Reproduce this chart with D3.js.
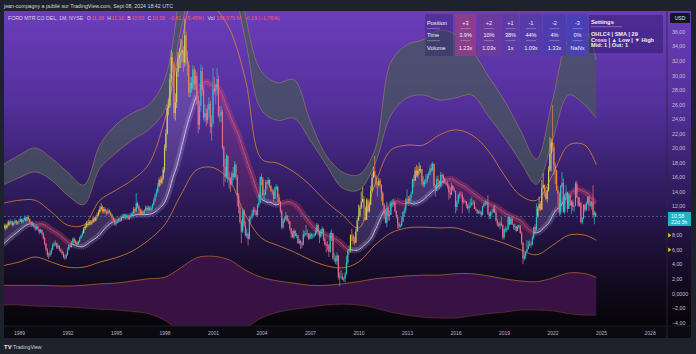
<!DOCTYPE html>
<html><head><meta charset="utf-8">
<script src="https://cdn.jsdelivr.net/npm/d3@7"></script>
<style>
html,body{margin:0;padding:0;background:#1e222d;}
svg{display:block;font-family:"Liberation Sans",Arial,sans-serif;}
</style></head><body>
<svg id="c" width="696" height="354"></svg>
<script>
// ---------------- DATA ----------------
const startYear = 1988;          // first monthly candle: Jan 1988
const firstOpen = 8.7;
const closes = [
9.0,9.3,9.0,9.4,9.8,9.6,9.9,9.4,9.7,10.0,9.6,9.8,
9.9,10.2,9.8,10.1,10.4,10.0,10.5,10.2,9.8,9.4,9.6,9.2,
8.9,9.2,8.8,8.4,8.7,8.2,7.6,6.8,6.0,5.3,5.2,5.5,
6.0,6.6,6.8,6.9,6.3,6.5,6.0,5.8,5.5,5.0,4.9,5.3,
6.0,6.6,6.4,7.0,7.5,7.2,7.0,6.8,7.1,7.6,7.9,8.3,
8.9,9.2,9.6,9.4,9.9,9.6,9.8,10.3,10.0,10.5,10.8,11.2,
11.6,11.9,11.3,11.6,11.2,11.0,11.4,11.1,10.8,10.4,10.1,9.6,
9.8,9.9,10.2,10.0,10.4,10.6,10.8,10.4,10.7,10.3,10.5,10.7,
11.0,11.6,11.3,12.4,12.0,11.5,11.0,11.3,11.0,11.4,11.8,11.5,
11.8,11.5,11.7,12.2,12.8,13.5,14.0,14.8,15.6,15.2,15.8,17.0,
20.0,22.0,25.5,25.8,29.5,32.5,31.5,24.8,26.3,30.5,32.3,32.8,
33.0,33.5,31.8,35.5,32.5,31.5,27.6,29.0,28.2,30.8,28.8,29.9,
26.8,23.2,25.8,30.6,28.0,24.2,24.8,23.8,25.3,26.1,22.9,23.4,
28.2,27.8,28.1,29.5,24.5,24.5,25.0,20.0,17.4,16.0,18.9,15.7,
15.8,15.0,16.5,16.0,17.7,16.0,13.5,11.8,9.8,8.5,11.4,9.3,
8.0,8.2,7.5,10.3,10.4,11.0,11.5,11.3,10.8,12.1,12.5,16.0,
15.7,13.5,13.6,15.3,15.1,15.6,14.7,14.1,14.0,13.0,14.6,14.6,
13.2,12.6,11.3,9.1,10.0,10.2,10.7,10.0,9.9,8.9,8.2,7.7,
8.6,7.9,8.0,6.9,7.2,6.9,6.7,8.1,8.1,8.3,8.2,7.5,
8.1,7.9,7.9,8.0,8.4,9.4,8.5,7.8,8.5,8.9,7.5,6.7,
6.6,6.6,5.7,8.3,8.3,4.8,4.8,4.4,5.2,2.2,2.3,2.3,
1.9,2.0,2.6,4.2,5.9,6.1,8.0,7.9,7.2,7.0,8.5,10.0,
10.7,11.8,12.6,13.0,11.8,10.1,12.8,11.3,12.2,14.1,15.9,16.8,
16.1,15.0,14.9,15.5,14.9,13.8,12.2,10.9,9.7,11.7,10.6,10.8,
12.4,12.4,12.5,11.3,10.5,9.6,9.2,9.3,9.9,11.2,11.4,12.9,
13.0,12.7,13.2,13.7,15.7,15.5,16.9,16.2,16.9,17.1,17.1,15.4,
15.0,15.4,15.6,16.2,16.4,17.2,17.0,17.8,14.8,14.1,15.7,15.5,
14.7,16.3,16.1,15.8,15.2,15.0,14.8,13.9,13.6,14.8,14.3,14.1,
11.9,12.5,13.5,13.6,13.5,12.6,12.7,12.6,12.1,11.7,12.0,12.1,
12.4,12.5,11.6,11.5,11.1,11.2,11.2,10.8,12.0,12.3,12.5,12.5,
11.0,10.6,11.1,11.2,11.6,11.1,10.0,9.5,9.3,9.6,9.4,7.7,
8.8,8.8,8.8,10.5,9.5,10.2,9.5,9.2,9.2,8.6,9.1,9.3,
8.3,7.0,4.8,5.1,5.7,6.1,6.6,6.8,6.7,7.7,9.1,8.8,
10.5,11.7,12.3,11.5,14.5,14.9,14.0,13.0,14.2,17.0,19.2,20.8,
20.1,17.6,16.9,14.2,13.7,11.1,14.7,15.2,11.2,13.4,13.9,11.6,
13.5,12.1,12.6,11.9,12.0,15.1,13.2,12.1,12.4,9.8,10.3,12.2,
11.5,12.4,13.3,12.1,12.1,12.5,10.8,11.08,10.58];
const highs = [
9.3,9.6,9.5,9.6,10.1,10.0,10.2,10.0,9.9,10.3,10.1,10.0,
10.2,10.5,10.3,10.3,10.7,10.5,10.8,10.7,10.3,9.9,9.9,9.7,
9.4,9.4,9.3,8.9,8.9,8.8,8.4,7.8,6.9,6.2,5.6,5.8,
6.2,6.9,7.1,7.3,7.0,6.8,6.6,6.2,6.0,5.7,5.3,5.5,
6.3,6.8,6.9,7.2,7.7,7.7,7.4,7.2,7.3,7.8,8.1,8.6,
9.1,9.5,9.9,9.8,10.1,10.1,10.1,10.5,10.5,10.7,11.1,11.5,
12.0,12.4,12.1,11.9,11.8,11.5,11.7,11.6,11.3,11.0,10.6,10.3,
10.2,10.2,10.4,10.4,10.6,10.9,11.0,10.9,10.9,10.8,10.8,11.0,
11.3,11.9,11.8,13.8,12.6,12.2,11.7,11.6,11.4,11.6,12.1,12.0,
12.1,12.0,12.0,12.4,13.1,13.8,14.4,15.2,15.9,16.1,16.2,17.4,
20.5,22.6,26.0,26.8,30.2,33.5,33.2,31.8,27.5,31.0,33.2,33.8,
35.0,34.8,34.0,37.8,36.0,33.4,32.0,29.8,29.8,31.4,31.2,30.8,
30.5,27.2,26.5,31.5,31.2,28.3,26.0,25.5,26.0,27.0,26.5,24.5,
31.0,29.8,28.8,31.0,30.0,25.8,25.8,25.3,20.3,18.5,19.2,19.0,
16.7,16.0,16.8,17.4,18.2,17.9,16.3,13.8,12.2,10.1,11.7,11.6,
9.9,8.9,8.4,10.6,10.7,11.5,11.9,11.8,11.5,12.3,13.6,16.1,
16.5,16.0,14.3,15.6,15.6,16.0,15.7,14.9,14.4,14.3,14.7,15.0,
14.8,13.7,12.7,11.5,10.3,10.6,11.2,10.8,10.3,10.0,9.0,8.6,
8.9,8.7,8.3,8.0,7.5,7.3,7.1,8.7,8.6,9.4,8.8,8.3,
8.4,8.3,8.2,8.3,8.7,9.7,9.6,8.6,8.8,9.2,8.9,7.7,
7.0,7.2,6.8,8.5,8.8,8.2,5.5,5.2,5.6,5.2,2.9,3.2,
2.8,2.2,2.9,5.2,6.0,6.6,8.1,8.9,8.2,7.8,8.9,10.4,
12.2,12.1,14.0,14.6,13.4,12.0,13.1,13.0,12.5,14.8,16.5,17.4,
18.9,16.3,15.5,15.9,15.8,15.0,14.0,12.4,11.5,12.6,11.9,11.4,
12.7,12.9,13.0,12.6,11.4,10.8,9.8,9.5,10.5,11.3,11.8,13.1,
14.3,13.4,13.5,14.0,15.8,16.3,17.4,17.7,17.5,18.0,17.6,17.1,
16.1,15.7,16.4,16.5,16.8,17.6,17.9,18.1,17.9,15.0,16.1,16.2,
15.5,16.7,16.5,16.4,15.9,15.3,15.5,15.1,14.6,15.2,14.9,14.6,
14.1,12.8,13.7,14.0,14.0,13.9,13.2,12.9,12.7,12.3,12.5,13.0,
13.3,12.8,12.8,11.9,11.6,11.4,11.5,11.3,12.0,12.5,12.8,12.7,
13.5,11.2,11.3,11.6,12.0,12.2,11.4,10.3,9.8,9.9,10.5,9.5,
8.9,9.2,9.1,10.6,10.6,10.5,10.6,9.5,9.6,9.3,9.4,9.5,
9.4,8.5,7.0,5.6,5.8,7.3,7.2,7.4,7.1,8.0,9.2,9.5,
12.4,12.0,13.3,12.7,15.6,16.5,15.0,14.2,14.7,17.5,21.5,21.3,
25.9,20.7,18.0,17.0,14.8,14.0,14.9,16.7,15.8,13.7,14.9,14.0,
13.8,13.6,12.8,12.9,12.1,15.4,15.5,13.3,13.2,12.6,10.5,12.2,
12.2,12.6,13.4,13.1,12.7,12.7,14.85,11.4,11.16];
const lows = [
8.4,8.8,8.7,8.9,9.2,9.3,9.4,9.2,9.2,9.5,9.4,9.4,
9.5,9.8,9.6,9.6,10.0,9.8,9.9,10.0,9.6,9.1,9.2,9.0,
8.6,8.7,8.6,8.1,8.3,8.0,7.4,6.6,5.8,5.0,4.7,5.0,
5.3,5.9,6.4,6.5,6.1,6.1,5.8,5.6,5.3,4.8,4.6,4.7,
5.2,5.9,6.2,6.3,6.9,7.0,6.8,6.6,6.7,7.0,7.5,7.8,
8.2,8.7,9.0,9.1,9.3,9.4,9.4,9.7,9.8,9.9,10.3,10.6,
11.0,11.4,11.0,11.0,11.0,10.7,10.9,10.9,10.6,10.2,9.9,9.3,
9.3,9.6,9.7,9.8,9.9,10.3,10.5,10.2,10.3,10.1,10.1,10.4,
10.5,10.9,11.1,11.2,11.7,11.3,10.7,10.9,10.8,10.9,11.3,11.2,
11.3,11.3,11.3,11.5,12.1,12.6,13.3,13.8,14.6,14.8,15.0,15.6,
16.6,19.6,21.8,24.5,25.5,29.0,30.5,24.0,23.8,25.5,29.8,31.0,
31.0,31.8,30.5,31.2,31.5,30.0,27.0,27.0,27.6,28.0,28.0,28.0,
26.0,22.0,22.5,25.0,27.2,23.8,23.5,23.0,23.3,24.2,22.0,21.0,
23.2,27.3,26.0,27.2,24.2,23.5,23.6,19.8,14.7,15.3,15.8,15.2,
14.4,14.0,14.8,15.5,15.8,15.6,12.0,11.0,9.6,6.9,8.3,9.1,
7.8,7.6,6.6,7.4,9.7,10.2,10.6,10.8,10.6,10.5,11.8,12.3,
14.9,13.4,12.7,13.5,14.3,14.9,14.5,13.9,13.6,12.6,13.0,14.2,
12.6,12.3,11.0,8.8,8.9,9.7,10.0,9.8,9.5,8.6,7.6,7.6,
7.5,7.8,7.6,6.8,6.7,6.1,6.2,6.6,7.7,7.9,7.7,7.3,
7.4,7.5,7.5,7.7,7.9,8.2,8.0,6.9,7.6,8.2,7.2,6.5,
5.6,5.9,5.0,5.6,7.2,4.6,4.3,4.0,3.9,1.9,1.0,2.0,
1.8,1.6,1.5,2.6,3.9,5.3,5.6,7.2,6.8,6.6,6.9,8.5,
10.0,10.5,11.6,12.5,10.0,10.0,10.2,11.1,11.1,12.1,14.0,15.8,
16.0,14.5,13.3,14.7,14.4,12.7,12.0,10.2,9.6,9.1,10.0,10.0,
10.9,11.9,12.1,11.1,10.3,8.9,8.8,9.0,9.2,9.8,10.6,11.0,
12.6,12.3,12.5,12.7,13.8,14.6,15.5,16.0,15.9,16.4,16.6,14.8,
14.6,14.6,15.0,15.2,15.8,16.3,16.7,16.8,14.6,13.3,14.1,14.4,
14.3,14.6,15.8,15.1,15.1,14.8,14.4,12.9,13.1,13.5,14.1,13.9,
11.0,11.4,12.3,13.0,13.2,11.0,12.3,12.4,11.7,11.5,11.0,11.8,
12.1,12.2,11.6,11.3,10.9,10.9,10.9,10.5,10.7,11.8,12.0,12.2,
10.8,10.2,10.2,10.8,11.1,11.0,9.9,9.2,9.1,8.8,9.2,7.4,
7.4,8.4,8.4,8.7,9.3,9.4,9.4,8.8,8.7,8.4,8.6,8.9,
8.2,6.7,4.0,4.5,4.7,5.8,6.1,6.5,6.3,6.6,7.4,8.4,
8.6,10.4,11.4,11.3,11.6,14.4,13.3,12.8,12.5,14.0,16.7,16.8,
19.5,16.3,15.0,14.1,12.2,10.6,10.8,14.5,11.1,10.9,13.0,11.1,
11.6,12.0,10.9,11.4,11.2,12.0,13.1,11.9,11.9,9.6,9.5,10.2,
11.2,11.3,12.2,11.3,11.9,11.5,10.4,9.5,10.53];
// monthly closes Sep 1985 - Dec 1987 (off-screen, only feed the 29-bar average)
const warmupCloses = [4.0,4.2,4.4,4.6,
4.8,5.0,5.3,5.6,5.5,5.4,5.2,5.5,5.4,5.7,5.8,5.9,
6.8,7.2,8.0,8.4,8.8,9.4,10.0,10.8,10.5,7.6,7.4,7.8];
const maLength = 29;

// deviation zones
const bandYears = [1988,1989,1990,1991,1992,1993,1994,1995,1996,1997,1998,1999,2000,2001,2002,2003,2004,2005,2006,2007,2008,2009,2010,2011,2012,2013,2014,2015,2016,2017,2018,2019,2020,2021,2022,2023,2024,2024.7];
const bandUp3 = [17.7,19,20,18.6,16.7,14.9,20.4,23.2,24.8,25.9,29.4,42,55,60,55,38.3,30.5,29,29.4,23.8,19,16.7,16.3,19.7,31.8,34.2,34.9,36.2,35.6,33.5,30,26.6,22.5,18.5,26.6,34.9,36.2,32.1];
const bandUp2 = [14.9,15.9,16.7,15.6,13.5,12.2,17.2,19.3,21.1,22.5,25.2,36.2,45,50,45,34.9,25.2,23.8,24.1,21.1,17.7,14.5,14.2,17.7,24.5,26.9,27.3,26.6,26.9,27.3,24.5,21.5,18.2,15,21.1,27.3,25.9,24.1];
const bandUp1 = [12.4,12.8,12.8,11.2,9.4,9.4,12.8,14.2,15.6,17.7,23.8,34.2,42,39.7,36.5,29.5,18.5,17.9,16.7,14.9,12.6,10.8,9,14.9,19.7,20.4,20.4,21.8,22.5,21.8,19.7,16.3,13.5,12.8,16.3,20.4,20.4,17.7];
const bandDn1 = [3.8,4.3,5.0,4.3,3.6,3.6,4.3,4.9,5.8,7.3,9.4,13.5,17,17.3,15.6,10.8,7.6,6.6,5.7,4.6,3.8,3.5,4.3,6.6,8.3,9,9.1,9,9,8.3,7.6,6.9,6,5.3,6.6,8,8,7.3];
const bandDn2 = [1.1,1.1,1.1,1.05,1.0,1.1,1.3,1.4,1.7,2.0,2.2,3.5,4.9,5.1,4.6,3.2,2.2,1.7,1.4,1.1,1.1,1.3,1.6,2.0,2.2,2.4,2.5,2.5,2.7,2.7,2.4,2.0,1.7,1.6,2.1,2.8,2.7,2.2];
const bandDn3 = [-1.6,-1.6,-1.75,-1.8,-1.9,-2.0,-2.2,-2.3,-2.5,-2.8,-3.7,-5.3,-6.4,-6.7,-6.2,-4.8,-3.4,-2.6,-2.2,-1.9,-1.6,-1.5,-1.6,-2.0,-2.6,-3.0,-3.3,-3.4,-3.4,-3.1,-2.8,-2.6,-2.3,-2.3,-2.4,-2.8,-3.0,-3.0];

const yearTicks = [1989,1992,1995,1998,2001,2004,2007,2010,2013,2016,2019,2022,2025,2028];
const priceTicks = [36,34,32,30,28,26,24,22,20,18,16,14,12,8,6,4,2,0,-2,-4];
const alertPrices = [8,6];
const lastPrice = 10.58;
const countdown = "22d 3h";

const tableHeader = ["Position","+3","+2","+1","-1","-2","-3"];
const timeRow = ["Time","3.9%","10%","38%","44%","4%","0%"];
const volumeRow = ["Volume","1.23x","1.03x","1x","1.09x","1.33x","NaNx"];
const settingsTitle = "Settings";
const settingsLines = ["OHLC4 | SMA | 29","Cross | \u25B2 Low | \u25BC High","Mid: 1 | Out: 1"];

const headerText = "jean-compagny a publié sur TradingView.com, Sept 08, 2024 18:42 UTC";
const symbolText = "FORD MTR CO DEL, 1M, NYSE";
const legendItems = [["O","11,08"],["H","11,16"],["B","10,53"],["C","10,58"]];
const changeText = "\u22120,61 (\u22125,45%)";
const volText = "195,575 M";
const volChange = "\u22120,19 (\u22121,76%)";

// ---------------- DRAW ----------------
const W = 696, H = 354;
const P = {l:4, r:667, t:11, b:326};
const svg = d3.select("#c");
const defs = svg.append("defs");
const grad = defs.append("linearGradient").attr("id","bg").attr("x1",0).attr("y1",0).attr("x2",0).attr("y2",1);
[[0,"#6c3dbb"],[0.3,"#53309b"],[0.6,"#2d1958"],[0.85,"#130b22"],[1,"#060508"]]
  .forEach(([o,c])=>grad.append("stop").attr("offset",o).attr("stop-color",c));
defs.append("clipPath").attr("id","clip").append("rect")
  .attr("x",P.l).attr("y",P.t).attr("width",P.r-P.l).attr("height",P.b-P.t);

svg.append("rect").attr("width",W).attr("height",H).attr("fill","#1e222d");
svg.append("rect").attr("x",4).attr("y",11).attr("width",687).attr("height",315).attr("fill","url(#bg)");
svg.append("rect").attr("x",4).attr("y",326).attr("width",687).attr("height",12).attr("fill","#0b0a10");

const x = d3.scaleLinear().domain([1989,2028]).range([19,649.6]);
const y = d3.scaleLinear().domain([0,36]).range([293.3,31.76]);

const g = svg.append("g").attr("clip-path","url(#clip)");

// bands
const bands = bandYears.map((t,i)=>({t,u3:bandUp3[i],u2:bandUp2[i],u1:bandUp1[i],d1:bandDn1[i],d2:bandDn2[i],d3:bandDn3[i]}));
const curve = d3.curveCatmullRom.alpha(0.5);
g.append("path").datum(bands).attr("fill","rgba(70,88,92,0.72)")
  .attr("d",d3.area().x(d=>x(d.t)).y0(d=>y(d.u2)).y1(d=>y(d.u3)).curve(curve));
g.append("path").datum(bands).attr("fill","#3c1448").attr("opacity",0.92)
  .attr("d",d3.area().x(d=>x(d.t)).y0(d=>y(d.d3)).y1(d=>y(d.d2)).curve(curve));
const edge = (k,col,w,op)=>g.append("path").datum(bands).attr("fill","none").attr("stroke",col)
  .attr("stroke-width",w).attr("opacity",op).attr("d",d3.line().x(d=>x(d.t)).y(d=>y(d[k])).curve(curve));
edge("u3","#b39358",0.8,0.6); edge("u2","#b39358",0.8,0.6);
edge("d2","#b86a2e",0.9,0.8); edge("d3","#8a4a2a",0.8,0.6);
edge("u1","#e0892e",0.9,0.85); edge("d1","#e0892e",0.9,0.85);

// candles
const candles = closes.map((c,i)=>{
  const o = i ? closes[i-1] : firstOpen;
  return {t:startYear+i/12, o, c, h:Math.max(highs[i],o,c), l:Math.min(lows[i],o,c)};
});
const src = warmupCloses.concat(candles.map(d=>(d.o+d.h+d.l+d.c)/4));
candles.forEach((d,i)=>{
  const j = i + warmupCloses.length;
  d.ma = d3.mean(src.slice(Math.max(0,j-maLength+1), j+1));
  d.p4 = src[j];
});

// cloud between price and average
g.append("path").datum(candles).attr("fill","rgba(225,215,255,0.13)")
  .attr("d",d3.area().x(d=>x(d.t)).y0(d=>y(d.ma)).y1(d=>y(Math.max(d.ma,d.p4))));
g.append("path").datum(candles).attr("fill","rgba(235,80,120,0.13)")
  .attr("d",d3.area().x(d=>x(d.t)).y0(d=>y(d.ma)).y1(d=>y(Math.min(d.ma,d.p4))));

// ribbon
const segs = candles.slice(1).map((d,i)=>({a:candles[i],b:d,up:d.p4>=d.ma}));
g.selectAll(".rib").data(segs).join("line").attr("class","rib")
  .attr("x1",s=>x(s.a.t)).attr("y1",s=>y(s.a.ma)).attr("x2",s=>x(s.b.t)).attr("y2",s=>y(s.b.ma))
  .attr("stroke",s=>s.up?"rgba(215,205,255,0.2)":"rgba(205,70,105,0.36)")
  .attr("stroke-width",6).attr("stroke-linecap","butt");
g.selectAll(".core").data(segs).join("line").attr("class","core")
  .attr("x1",s=>x(s.a.t)).attr("y1",s=>y(s.a.ma)).attr("x2",s=>x(s.b.t)).attr("y2",s=>y(s.b.ma))
  .attr("stroke",s=>s.up?"#ece6ff":"#e0668a").attr("stroke-width",s=>s.up?1:0.8).attr("opacity",0.75);

const colOf = d => {
  if (d.c >= d.o) return d.c > d.ma*1.3 ? "#c9d65a" : "#2ec5c9";
  return d.c < d.ma ? "#e8708c" : "#f3883f";
};
const bw = 1.1;
g.selectAll(".wick").data(candles).join("line").attr("class","wick")
  .attr("x1",d=>x(d.t)).attr("x2",d=>x(d.t)).attr("y1",d=>y(d.h)).attr("y2",d=>y(d.l))
  .attr("stroke",colOf).attr("stroke-width",0.7);
g.selectAll(".body").data(candles).join("rect").attr("class","body")
  .attr("x",d=>x(d.t)-bw/2).attr("y",d=>y(Math.max(d.o,d.c))).attr("width",bw)
  .attr("height",d=>Math.max(0.7,Math.abs(y(d.o)-y(d.c)))).attr("fill",colOf);

// last price line
g.append("line").attr("x1",P.l).attr("x2",P.r).attr("y1",y(lastPrice)).attr("y2",y(lastPrice))
  .attr("stroke","#5682a8").attr("stroke-width",0.7).attr("stroke-dasharray","2,2");

// separators
svg.append("line").attr("x1",P.r).attr("x2",P.r).attr("y1",11).attr("y2",338).attr("stroke","#2c2838").attr("stroke-width",0.8);
svg.append("line").attr("x1",4).attr("x2",691).attr("y1",P.b).attr("y2",P.b).attr("stroke","#24222c").attr("stroke-width",0.8);

// time axis
const xa = svg.append("g").attr("transform",`translate(0,${P.b})`)
  .call(d3.axisBottom(x).tickValues(yearTicks).tickFormat(d=>String(d)).tickSize(0).tickPadding(5));
xa.select(".domain").remove();
xa.selectAll("text").attr("fill","#b8b6c4").attr("font-size",5).attr("font-family","Liberation Sans, Arial");

// price axis
const ya = svg.append("g").attr("transform",`translate(${P.r},0)`)
  .call(d3.axisRight(y).tickValues(priceTicks).tickSize(0).tickPadding(5)
  .tickFormat(d=> d===0 ? "0,0000" : (d<0?"\u2212":"")+Math.abs(d).toFixed(2).replace(".",",")));
ya.select(".domain").remove();
ya.selectAll("text").attr("fill","#c4c0d2").attr("font-size",5.3).attr("font-family","Liberation Sans, Arial");

// alert flags
alertPrices.forEach(p=>{
  const yy = y(p);
  svg.append("path").attr("d",`M668.2,${yy-2.2}L671.2,${yy}L668.2,${yy+2.2}Z`).attr("fill","#f2d31b");
});

// last price tag
const ly = y(lastPrice);
svg.append("rect").attr("x",668).attr("y",ly-4.5).attr("width",23).attr("height",14).attr("fill","#1fb3c6");
svg.append("text").attr("x",671).attr("y",ly+1.5).attr("font-size",5.3).attr("fill","#fff").text(lastPrice.toFixed(2).replace(".",","));
svg.append("text").attr("x",671).attr("y",ly+7.6).attr("font-size",5.3).attr("fill","#fff").text(countdown);

// USD badge
svg.append("rect").attr("x",670).attr("y",13).attr("width",20).attr("height",10).attr("rx",1.5).attr("fill","#141721");
svg.append("text").attr("x",680).attr("y",20).attr("text-anchor","middle").attr("font-size",5).attr("fill","#e6e6ee").text("USD");

// header / footer
svg.append("text").attr("x",4).attr("y",7.6).attr("font-size",5.6).attr("fill","#d8dae0")
  .attr("textLength",169).attr("lengthAdjust","spacingAndGlyphs").text(headerText);
svg.append("text").attr("x",4).attr("y",349).attr("font-size",6).attr("font-weight","bold").attr("fill","#e8e8ec").text("TV");
svg.append("text").attr("x",13).attr("y",349).attr("font-size",5.2).attr("fill","#d0d2d8").text("TradingView");

// symbol legend: pieces laid out one after another, measured so none overlap
const grey = "#d6d3e6", red = "#ff5a5f";
const pieces = [[symbolText,grey,3.5]];
legendItems.forEach(([k,v])=>{ pieces.push([k,grey,0.6]); pieces.push([v,red,3.2]); });
pieces.push([changeText,red,3.5],["Vol",grey,1.6],[volText,red,3],[volChange,red,0]);
let lx = 8;
pieces.forEach(([txt,col,gap])=>{
  const t = svg.append("text").attr("x",lx).attr("y",19.5).attr("font-size",5.2).attr("fill",col).text(txt);
  lx += t.node().getComputedTextLength() + gap;
});

// table
const colX = [425,455,477,502,520,543,567], colW = [28,21,24,17,22,23,21];
const cellFill = ["rgba(40,28,100,0.35)","#8b3e8b","#6b3a9f","#5e3aa4","#553ba8","#4e3bad","#4740b6"];
colX.forEach((cx,j)=>svg.append("rect").attr("x",cx).attr("y",14).attr("width",colW[j]).attr("height",42).attr("fill",cellFill[j]));
const rowY = [25,37,49.5];
[tableHeader,timeRow,volumeRow].forEach((row,r)=>row.forEach((txt,j)=>{
  const t = svg.append("text").attr("y",rowY[r]).attr("font-size",5.6).attr("fill","#f2f0fa").text(txt);
  if (j===0) t.attr("x",colX[0]+2); else t.attr("x",colX[j]+colW[j]/2).attr("text-anchor","middle");
}));
[28.6,40.6].forEach(ly2=>colX.forEach((cx,j)=>{
  const x1 = j===0 ? cx+2 : cx+colW[j]/2-5, x2 = j===0 ? cx+15 : cx+colW[j]/2+5;
  svg.append("line").attr("x1",x1).attr("x2",x2).attr("y1",ly2).attr("y2",ly2).attr("stroke","rgba(255,255,255,0.45)").attr("stroke-width",0.6);
}));

// settings box
svg.append("rect").attr("x",589).attr("y",15).attr("width",74).attr("height",38).attr("fill","rgba(40,22,95,0.45)");
svg.append("text").attr("x",591).attr("y",23.5).attr("font-size",5.8).attr("font-weight","bold").attr("fill","#f2f0fa").text(settingsTitle);
svg.append("line").attr("x1",591).attr("x2",622).attr("y1",26.7).attr("y2",26.7).attr("stroke","rgba(255,255,255,0.5)").attr("stroke-width",0.6);
settingsLines.forEach((s,i)=>svg.append("text").attr("x",591).attr("y",35.8+i*5.8).attr("font-size",5.6)
  .attr("font-weight","bold").attr("fill","#f2f0fa").text(s));
</script></body></html>
